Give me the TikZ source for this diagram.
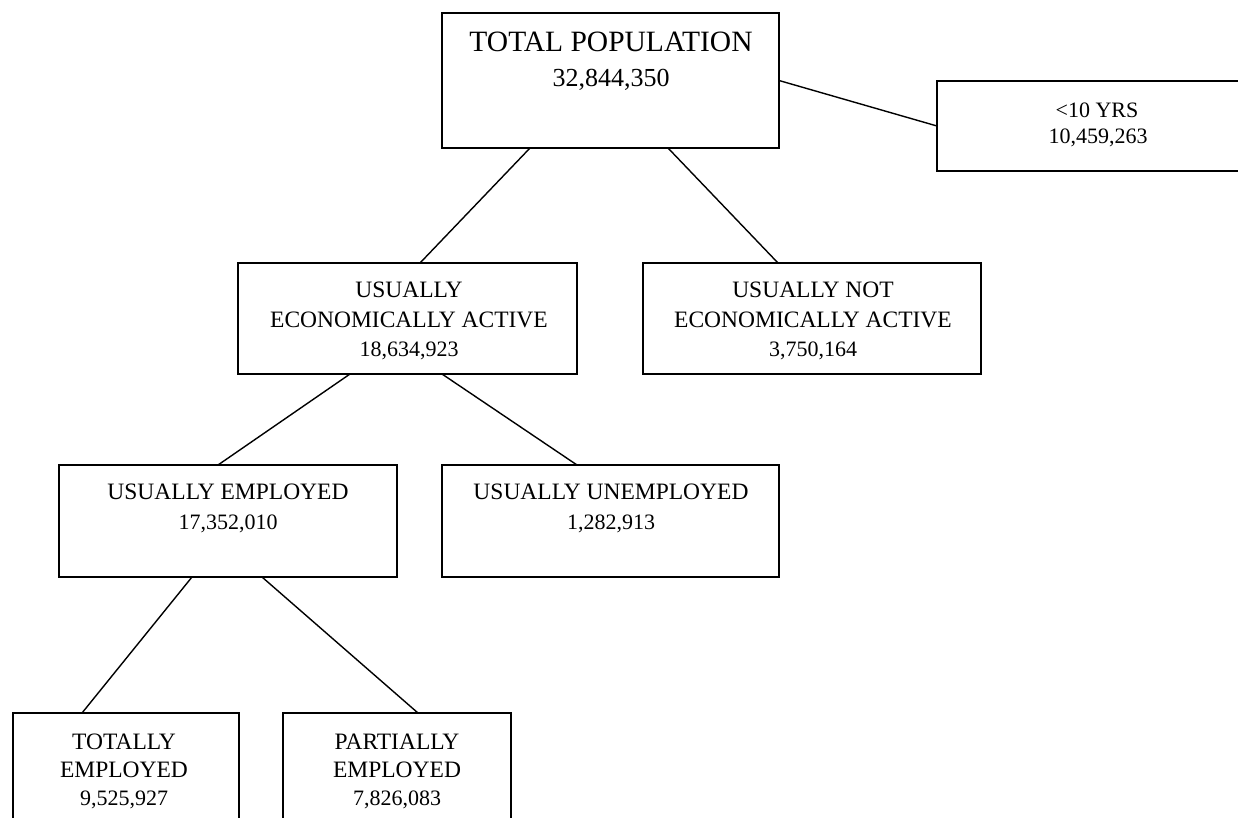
\documentclass[tikz,border=0pt]{standalone}
\usepackage{fontspec}
\setmainfont{Liberation Serif}
\usetikzlibrary{calc}
\tikzset{
  box/.style={draw, rectangle, line width=1.8pt, inner sep=0pt, outer sep=0pt, anchor=north west},
  conn/.style={line width=1.4pt},
  wtxt/.style={inner sep=0pt, anchor=base, font=\fontsize{23.5}{28}\selectfont},
  ntxt/.style={inner sep=0pt, anchor=base, font=\fontsize{22}{26}\selectfont},
  ttxt/.style={inner sep=0pt, anchor=base, font=\fontsize{29.5}{33}\selectfont},
  tntxt/.style={inner sep=0pt, anchor=base, font=\fontsize{26}{30}\selectfont}
}
\begin{document}
\begin{tikzpicture}[x=1pt, y=-1pt]
\clip (0,0) rectangle (1238,817);
\fill[white] (0,0) rectangle (1238,817);
% boxes
\node[box, minimum width=337pt, minimum height=135pt] (top) at (442,13) {};
\node[box, minimum width=322pt, minimum height=90pt] (young) at (937,81) {};
\node[box, minimum width=339pt, minimum height=111pt] (uea) at (238,263) {};
\node[box, minimum width=338pt, minimum height=111pt] (unea) at (643,263) {};
\node[box, minimum width=338pt, minimum height=112pt] (ue) at (59,465) {};
\node[box, minimum width=337pt, minimum height=112pt] (uu) at (442,465) {};
\node[box, minimum width=226pt, minimum height=130pt] (te) at (13,713) {};
\node[box, minimum width=228pt, minimum height=130pt] (pe) at (283,713) {};
% texts
\node[ttxt] (topa) at (611,51) {TOTAL POPULATION};
\node[tntxt] (topb) at (611,86) {32,844,350};
\node[ntxt] (younga) at (1097,117) {<10 YRS};
\node[ntxt] (youngb) at (1098,143) {10,459,263};
\node[wtxt] (ueaa) at (409,297) {USUALLY};
\node[wtxt] (ueab) at (409,327) {ECONOMICALLY ACTIVE};
\node[ntxt] (ueac) at (409,356) {18,634,923};
\node[wtxt] (uneaa) at (813,297) {USUALLY NOT};
\node[wtxt] (uneab) at (813,327) {ECONOMICALLY ACTIVE};
\node[ntxt] (uneac) at (813,356) {3,750,164};
\node[wtxt] (uea1) at (228,499) {USUALLY EMPLOYED};
\node[ntxt] (uea2) at (228,529) {17,352,010};
\node[wtxt] (uua) at (611,499) {USUALLY UNEMPLOYED};
\node[ntxt] (uub) at (611,529) {1,282,913};
\node[wtxt] (tea) at (124,749) {TOTALLY};
\node[wtxt] (teb) at (124,777) {EMPLOYED};
\node[ntxt] (tec) at (124,805) {9,525,927};
\node[wtxt] (pea) at (397,749) {PARTIALLY};
\node[wtxt] (peb) at (397,777) {EMPLOYED};
\node[ntxt] (pec) at (397,805) {7,826,083};
% connectors
\draw[conn] (top.east) -- (young.west);
\draw[conn] ($(top.south west)+(88,0)$) -- ($(uea.north west)+(182,0)$);
\draw[conn] ($(top.south west)+(226,0)$) -- ($(unea.north west)+(135,0)$);
\draw[conn] ($(uea.south west)+(112,0)$) -- ($(ue.north west)+(159,0)$);
\draw[conn] ($(uea.south west)+(204,0)$) -- ($(uu.north west)+(135,0)$);
\draw[conn] ($(ue.south west)+(133,0)$) -- ($(te.north west)+(69,0)$);
\draw[conn] ($(ue.south west)+(203,0)$) -- ($(pe.north west)+(135,0)$);
\end{tikzpicture}
\end{document}
